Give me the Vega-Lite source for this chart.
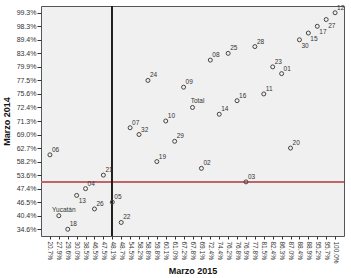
{
  "$schema": "https://vega.github.io/schema/vega-lite/v6.json",
  "autosize": {"type": "none"},
  "width": 303,
  "height": 230,
  "padding": {"left": 41, "top": 6, "right": 7, "bottom": 42},
  "background": "white",
  "config": {
    "font": "Liberation Sans",
    "view": {"stroke": "#555555", "fill": "#f0f0f0", "strokeWidth": 1},
    "axis": {"domain": false, "grid": false, "tickColor": "#333333", "labelColor": "#333333", "labelFontSize": 7, "titleFontSize": 9, "titleFontWeight": "bold", "titleColor": "#111111", "labelFont": "Liberation Sans", "titleFont": "Liberation Sans"}
  },
  "data": {
    "values": [
      {"id": "06", "x": 20.7, "y": 60.4},
      {"id": "Yucatán", "x": 27.9, "y": 40.4},
      {"id": "18", "x": 29.6, "y": 34.6},
      {"id": "13", "x": 30.0, "y": 46.9},
      {"id": "04", "x": 38.5, "y": 47.4},
      {"id": "26", "x": 46.5, "y": 43.5},
      {"id": "21", "x": 47.5, "y": 53.6},
      {"id": "05", "x": 48.1, "y": 46.5},
      {"id": "22", "x": 48.7, "y": 37.5},
      {"id": "07", "x": 54.5, "y": 70.2},
      {"id": "32", "x": 58.2, "y": 69.0},
      {"id": "24", "x": 58.8, "y": 77.5},
      {"id": "19", "x": 59.8, "y": 58.2},
      {"id": "10", "x": 60.1, "y": 71.3},
      {"id": "29", "x": 61.0, "y": 65.9},
      {"id": "09", "x": 67.2, "y": 76.4},
      {"id": "Total", "x": 67.8, "y": 72.4},
      {"id": "02", "x": 69.1, "y": 55.9},
      {"id": "08", "x": 72.4, "y": 81.5},
      {"id": "14", "x": 74.4, "y": 71.8},
      {"id": "25", "x": 76.2, "y": 83.4},
      {"id": "16", "x": 76.8, "y": 73.9},
      {"id": "03", "x": 76.9, "y": 50.0},
      {"id": "28", "x": 77.8, "y": 86.0},
      {"id": "11", "x": 81.5, "y": 75.6},
      {"id": "23", "x": 82.4, "y": 79.9},
      {"id": "01", "x": 86.3, "y": 78.6},
      {"id": "20", "x": 87.0, "y": 62.7},
      {"id": "30", "x": 88.4, "y": 89.4},
      {"id": "15", "x": 88.9, "y": 93.0},
      {"id": "17", "x": 95.2, "y": 98.3},
      {"id": "27", "x": 95.7, "y": 98.8},
      {"id": "12", "x": 100.0, "y": 99.3}
    ]
  },
  "encoding": {
    "x": {
      "field": "x", "type": "ordinal", "title": "Marzo 2015",
      "scale": {"type": "point", "padding": 2.39},
      "axis": {"labelAngle": 90, "labelAlign": "left", "labelBaseline": "middle", "labelFontSize": 6.5, "tickSize": 3, "labelPadding": 2, "labelExpr": "format(datum.value, '.1f') + '%'", "titleY": 37, "titleBaseline": "alphabetic"}
    },
    "y": {
      "field": "y", "type": "ordinal", "title": "Marzo 2014", "sort": "descending",
      "scale": {"type": "point", "padding": 2.3},
      "axis": {"values": [99.3, 98.3, 89.4, 83.4, 79.9, 77.5, 75.6, 72.4, 71.3, 69.0, 62.7, 58.2, 53.6, 47.4, 46.5, 40.4, 34.6], "tickSize": 4, "labelPadding": 1, "labelExpr": "format(datum.value, '.1f') + '%'", "titlePadding": 5}
    }
  },
  "layer": [
    {
      "mark": {"type": "rule", "stroke": "#c0656a", "strokeWidth": 0.9},
      "encoding": {"y": {"datum": 50.0, "type": "ordinal"}, "x": null}
    },
    {
      "mark": {"type": "rule", "stroke": "#222222", "strokeWidth": 0.9},
      "encoding": {"x": {"datum": 48.1, "type": "ordinal"}, "y": null}
    },
    {
      "mark": {"type": "point", "shape": "circle", "filled": false, "size": 16, "stroke": "#444444", "strokeWidth": 1, "opacity": 1}
    },
    {
      "transform": [{"filter": {"not": {"field": "id", "oneOf": ["13", "30", "27", "17", "15", "Yucatán", "Total"]}}}],
      "mark": {"type": "text", "fontSize": 6.5, "fill": "#333333", "align": "left", "baseline": "alphabetic", "dx": 2, "dy": -3},
      "encoding": {"text": {"field": "id"}}
    },
    {
      "transform": [{"filter": {"field": "id", "oneOf": ["13", "30", "27", "17", "15"]}}],
      "mark": {"type": "text", "fontSize": 6.5, "fill": "#333333", "align": "left", "baseline": "alphabetic", "dx": 2, "dy": 8},
      "encoding": {"text": {"field": "id"}}
    },
    {
      "transform": [{"filter": {"field": "id", "oneOf": ["Yucatán", "Total"]}}],
      "mark": {"type": "text", "fontSize": 6.5, "fill": "#333333", "align": "center", "baseline": "alphabetic", "dx": 5, "dy": -4},
      "encoding": {"text": {"field": "id"}}
    }
  ]
}
